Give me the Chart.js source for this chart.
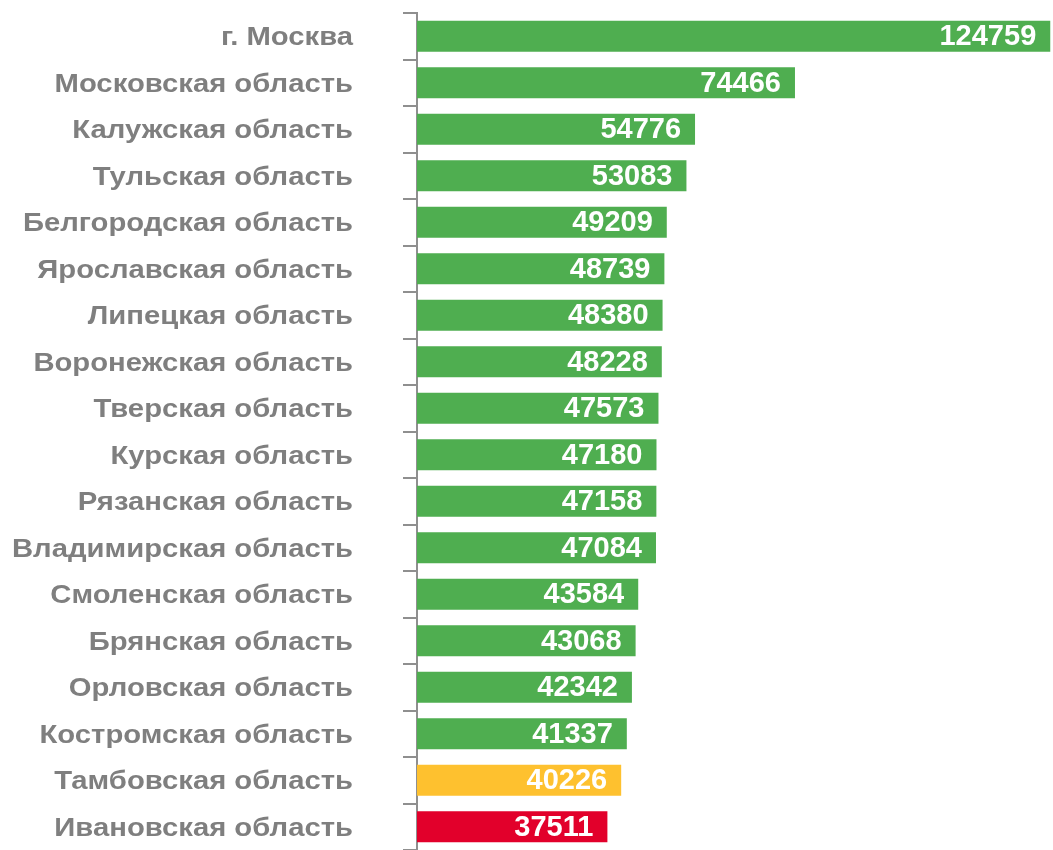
<!DOCTYPE html>
<html>
<head>
<meta charset="utf-8">
<script src="https://cdn.jsdelivr.net/npm/chart.js@4/dist/chart.umd.min.js"></script>
<style>
html,body{margin:0;padding:0;background:#fff;}
#wrap{width:1053px;height:850px;position:relative;}
</style>
</head>
<body>
<div id="wrap"><canvas id="c" width="1053" height="850"></canvas></div>
<script>
const categories = [
  "г. Москва","Московская область","Калужская область","Тульская область",
  "Белгородская область","Ярославская область","Липецкая область","Воронежская область",
  "Тверская область","Курская область","Рязанская область","Владимирская область",
  "Смоленская область","Брянская область","Орловская область","Костромская область",
  "Тамбовская область","Ивановская область"
];
const values = [124759,74466,54776,53083,49209,48739,48380,48228,47573,47180,47158,47084,43584,43068,42342,41337,40226,37511];
const barColors = values.map((v,i)=> i===16 ? "#FEC12F" : (i===17 ? "#E2002B" : "#4FAE50"));

const FONT = '"Liberation Sans", Arial, sans-serif';

const labelPlugin = {
  id:'barLabels',
  afterDatasetsDraw(chart){
    const ctx = chart.ctx;
    const meta = chart.getDatasetMeta(0);
    ctx.save();
    ctx.fillStyle = '#ffffff';
    ctx.font = 'bold 29px ' + FONT;
    ctx.textAlign = 'right';
    ctx.textBaseline = 'middle';
    meta.data.forEach((bar,i)=>{
      ctx.fillText(String(values[i]), bar.x - 14, bar.y + 1);
    });
    ctx.restore();
  }
};

// category labels drawn with the y scale, horizontally stretched like the original
const catLabelPlugin = {
  id:'catLabels',
  afterDraw(chart){
    const ctx = chart.ctx;
    const ys = chart.scales.y;
    const stretch = 1.17;
    const rightEdge = 353;
    ctx.save();
    ctx.fillStyle = '#7f7f7f';
    ctx.font = 'bold 25px ' + FONT;
    ctx.textAlign = 'right';
    ctx.textBaseline = 'middle';
    categories.forEach((lab,i)=>{
      const y = ys.getPixelForValue(i) + 2;
      ctx.save();
      ctx.translate(rightEdge, y);
      ctx.scale(stretch, 1);
      ctx.fillText(lab, 0, 0);
      ctx.restore();
    });
    ctx.restore();
  }
};

new Chart(document.getElementById('c'), {
  type:'bar',
  data:{
    labels:categories,
    datasets:[{data:values, backgroundColor:barColors, borderWidth:0, barPercentage:0.67, categoryPercentage:1.0}]
  },
  options:{
    indexAxis:'y',
    responsive:false,
    animation:false,
    layout:{padding:{top:13,bottom:0,left:0,right:0}},
    plugins:{legend:{display:false},tooltip:{enabled:false}},
    scales:{
      x:{display:false,min:0,max:125300},
      y:{
        afterFit(scale){ scale.width = 417; scale.paddingTop = 0; scale.paddingBottom = 0; },
        border:{display:true,color:'#8f8f8f',width:2},
        grid:{display:true,drawOnChartArea:false,drawTicks:true,tickLength:14,color:'#8f8f8f',lineWidth:2,offset:true},
        ticks:{display:false}
      }
    }
  },
  plugins:[labelPlugin, catLabelPlugin]
});
</script>
</body>
</html>
